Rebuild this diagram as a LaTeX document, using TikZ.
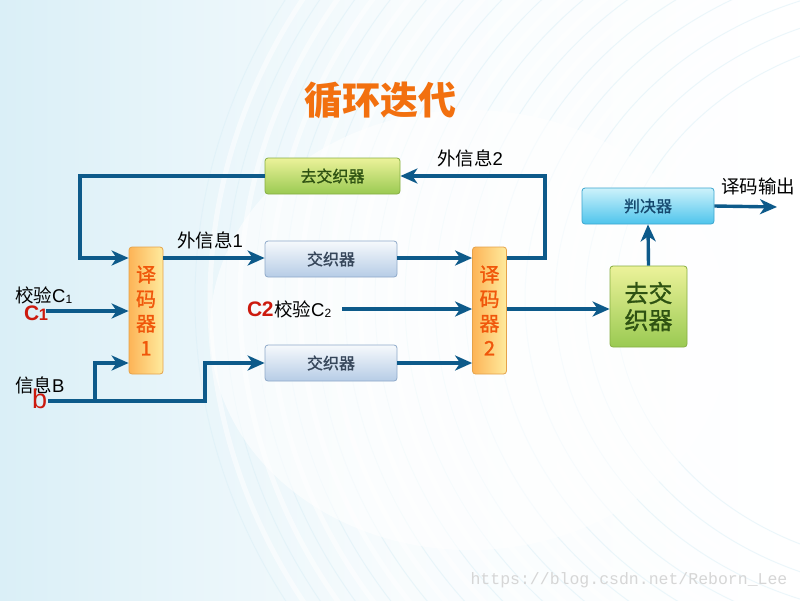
\documentclass[tikz,border=0pt]{standalone}
\usepackage{fontspec}
\setmainfont{Liberation Sans}
\newfontfamily\cjk{Noto Sans CJK SC}
\newfontfamily\cjkm[FakeBold=1.2]{Noto Sans CJK SC}
\newfontfamily\wmfont{Liberation Mono}
\usetikzlibrary{arrows.meta,calc}
\definecolor{linec}{HTML}{0D5A8A}
\definecolor{intTop}{HTML}{F6F9FC}
\definecolor{intBot}{HTML}{B6CCE6}
\definecolor{intBorder}{HTML}{8EA9C9}
\definecolor{intText}{HTML}{36465A}
\definecolor{deTop}{HTML}{ECF29A}
\definecolor{deBot}{HTML}{9ACA52}
\definecolor{deBorder}{HTML}{86AE42}
\definecolor{deText}{HTML}{2E5212}
\definecolor{juTop}{HTML}{CDF2FB}
\definecolor{juBot}{HTML}{4EC4EC}
\definecolor{juBorder}{HTML}{3CA6CF}
\definecolor{juText}{HTML}{15486E}
\definecolor{decL}{HTML}{FDB457}
\definecolor{decR}{HTML}{FEEB9E}
\definecolor{decBorder}{HTML}{E5A24A}
\definecolor{decText}{HTML}{F0560A}
\definecolor{titlec}{HTML}{F2700F}
\definecolor{redc}{HTML}{CC1A0E}
\definecolor{bgL}{HTML}{DAEFF7}
\definecolor{wmc}{HTML}{D6D6D6}
\tikzset{
  box/.style={draw, line width=0.8pt, rounded corners=3pt, inner sep=0pt},
  interbox/.style={box, top color=intTop, bottom color=intBot, draw=intBorder, text=intText,
    minimum width=132pt, minimum height=36pt, font=\cjkm\fontsize{16}{16}\selectfont},
  deintbox/.style={box, top color=deTop, bottom color=deBot, draw=deBorder, text=deText,
    minimum width=135pt, minimum height=36pt, font=\cjkm\fontsize{16}{16}\selectfont},
  bigdeint/.style={box, top color=deTop, bottom color=deBot, draw=deBorder, text=deText,
    minimum width=77pt, minimum height=81pt, align=center, font=\cjkm\fontsize{24}{27}\selectfont},
  judgebox/.style={box, top color=juTop, bottom color=juBot, draw=juBorder, text=juText,
    minimum width=132pt, minimum height=36pt, font=\cjkm\fontsize{16}{16}\selectfont},
  decbox/.style={box, left color=decL, right color=decR, draw=decBorder, text=decText,
    minimum width=34pt, minimum height=127pt, align=center, font=\cjkm\fontsize{20}{24.5}\selectfont},
  conn/.style={draw=linec, line width=3.4pt},
  arr/.style={conn, -{Stealth[length=17pt,width=15pt,inset=5pt]}},
  lbl/.style={inner sep=0pt, font=\fontsize{18.5}{18.5}\selectfont},
  redlbl/.style={inner sep=0pt, text=redc, font=\bfseries},
}
\begin{document}
\begin{tikzpicture}[x=1pt,y=-1pt]
\useasboundingbox (0,0) rectangle (800,600);
% background
\shade[left color=bgL, right color=white, middle color=white!80!bgL] (0,0) rectangle (800,600);
\begin{scope}
\clip (0,0) rectangle (800,600);
\foreach \r in {300,330,...,720}
  \draw[white, line width=5pt, opacity=0.55] (930,300) ellipse ({\r} and {0.85*\r});
\foreach \r in {315,345,...,735}
  \draw[bgL, line width=1pt, opacity=0.5] (930,300) ellipse ({\r} and {0.85*\r});
\fill[white, opacity=0.6] (470,330) ellipse (260 and 220);
\end{scope}
% title
\node (title) [text=titlec, font=\cjk\bfseries\fontsize{38}{38}\selectfont] at (380,100) {循环迭代};
% nodes
\node (deint1) [deintbox] at (332.5,176) {去交织器};
\node (int1) [interbox] at (331,259) {交织器};
\node (int2) [interbox] at (331,363) {交织器};
\node (dec1) [decbox] at (146,310.5) {译\\码\\器\\1};
\node (dec2) [decbox] at (489.5,310.5) {译\\码\\器\\2};
\node (deint2) [bigdeint] at (648.5,306.5) {去交\\织器};
\node (judge) [judgebox] at (648,206) {判决器};
% coordinates
\coordinate (tr) at (545,258);
\coordinate (tl) at (80,258);
\coordinate (c1s) at (46,311);
\coordinate (c2s) at (342,309);
\coordinate (bs) at (48,401);
\coordinate (bj) at (95,401);
\coordinate (bk) at (205,401);
\coordinate (out) at (777,207);
% connectors
\draw[arr] (dec2.east |- tr) -- (tr) |- (deint1.east);
\draw[arr] (deint1.west) -| (tl) -- (dec1.west |- tl);
\draw[arr] (dec1.east |- tl) -- (int1.west |- tl);
\draw[arr] (int1.east |- tl) -- (dec2.west |- tl);
\draw[arr] (c1s) -- (dec1.west |- c1s);
\draw[arr] (c2s) -- (dec2.west |- c2s);
\draw[arr] (bs) -- (bk) |- (int2.west);
\draw[arr] (bj) |- (dec1.west |- int2);
\draw[arr] (int2.east) -- (dec2.west |- int2);
\draw[arr] (dec2.east |- c2s) -- (deint2.west |- c2s);
\draw[arr] (deint2.north) -- (judge.south);
\draw[arr] (judge.east) -- (out);
% labels
\node (l2) [lbl] at (470,158) {{\cjk 外信息}2};
\node (l1) [lbl] at (210,240) {{\cjk 外信息}1};
\node (lout) [lbl] at (758,186) {\cjk 译码输出};
\node (lc1) [lbl, anchor=base west] at (15,302) {{\cjk 校验}C\raisebox{-1pt}{\fontsize{12}{12}\selectfont 1}};
\node (rc1) [redlbl, anchor=base west] at (24,320) {\fontsize{21}{21}\selectfont C\kern-0.5pt\fontsize{16.5}{16.5}\selectfont 1};
\node (rc2) [redlbl, anchor=base west] at (247,316) {\fontsize{21}{21}\selectfont C\kern-0.5pt 2};
\node (lc2) [lbl, anchor=base west] at (274,316) {{\cjk 校验}C\raisebox{-1pt}{\fontsize{12}{12}\selectfont 2}};
\node (lb) [lbl, anchor=base west] at (15,392) {{\cjk 信息}B};
\node (rb) [redlbl, anchor=base west] at (32,408) {\fontsize{27}{27}\selectfont\mdseries b};
% watermark
\node (wm) [inner sep=0pt, text=wmc, font=\wmfont\fontsize{16.5}{16.5}\selectfont] at (629,580) {https://blog.csdn.net/Reborn\_Lee};
\end{tikzpicture}
\end{document}
